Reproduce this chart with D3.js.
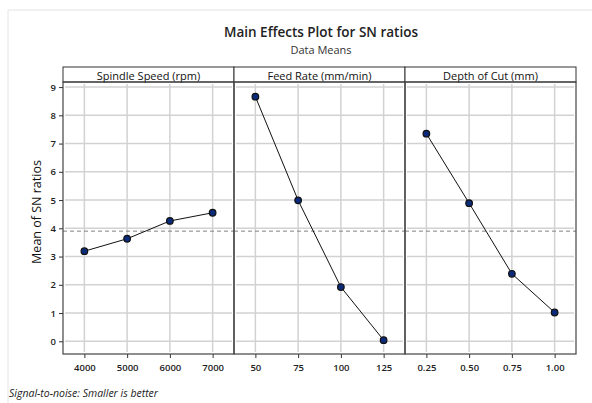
<!DOCTYPE html>
<html>
<head>
<meta charset="utf-8">
<script src="https://cdn.jsdelivr.net/npm/d3@7"></script>
<style>
  html, body { margin: 0; padding: 0; background: #fff; }
  svg { display: block; }
  text { font-family: "Open Sans", "Noto Sans", sans-serif; }
</style>
</head>
<body>
<svg id="chart" width="592" height="403"></svg>
<script>
// ---- data ----
const factors = ["Spindle Speed (rpm)", "Feed Rate (mm/min)", "Depth of Cut (mm)"];
const spindleLevels = ["4000", "5000", "6000", "7000"];
const spindleMeans = [3.19, 3.63, 4.26, 4.55];
const feedLevels = ["50", "75", "100", "125"];
const feedMeans = [8.66, 4.99, 1.92, 0.04];
const depthLevels = ["0.25", "0.50", "0.75", "1.00"];
const depthMeans = [7.35, 4.89, 2.39, 1.02];
const yTicks = [0, 1, 2, 3, 4, 5, 6, 7, 8, 9];
const overallMean = 3.90;

const panels = [
  { name: factors[0], levels: spindleLevels, values: spindleMeans },
  { name: factors[1], levels: feedLevels, values: feedMeans },
  { name: factors[2], levels: depthLevels, values: depthMeans }
];

// ---- layout ----
const svg = d3.select("#chart");
const plotLeft = 63, plotRight = 576;
const stripTop = 67, plotTop = 82, plotBottom = 354;

// outer faint frame
svg.append("path").attr("d", "M8,403 L8,10 L592,10")
  .attr("fill", "none").attr("stroke", "#e4e4e4").attr("stroke-width", 1);

// titles
svg.append("text").attr("x", 321).attr("y", 37).attr("text-anchor", "middle")
  .attr("font-size", 13.5).attr("font-weight", 600).attr("fill", "#222")
  .text("Main Effects Plot for SN ratios");
svg.append("text").attr("x", 321).attr("y", 54).attr("text-anchor", "middle")
  .attr("font-size", 11).attr("fill", "#333")
  .text("Data Means");

const y = d3.scaleLinear().domain([-0.45, 9.18]).range([plotBottom, plotTop]);

const outer = d3.scaleBand().domain(d3.range(panels.length))
  .range([plotLeft, plotRight]).paddingInner(0).paddingOuter(0);

panels.forEach((p, i) => {
  const x0 = outer(i), w = outer.bandwidth();
  const g = svg.append("g");
  const x = d3.scalePoint().domain(p.levels).range([x0, x0 + w]).padding(0.5);

  // horizontal grid
  g.selectAll("line.hg").data(yTicks).join("line")
    .attr("x1", x0 + 2).attr("x2", x0 + w - 2)
    .attr("y1", d => y(d)).attr("y2", d => y(d))
    .attr("stroke", "#d2d2d2").attr("stroke-width", 1.5);
  // vertical grid
  g.selectAll("line.vg").data(p.levels).join("line")
    .attr("x1", d => x(d)).attr("x2", d => x(d))
    .attr("y1", plotTop + 2).attr("y2", plotBottom - 2)
    .attr("stroke", "#d2d2d2").attr("stroke-width", 1.5);

  // reference line
  g.append("line").attr("x1", x0).attr("x2", x0 + w)
    .attr("y1", y(overallMean)).attr("y2", y(overallMean))
    .attr("stroke", "#808080").attr("stroke-width", 1).attr("stroke-dasharray", "4,3");

  // line
  const line = d3.line().x((d, j) => x(p.levels[j])).y(d => y(d));
  g.append("path").datum(p.values).attr("d", line)
    .attr("fill", "none").attr("stroke", "#111").attr("stroke-width", 1);
  // points
  g.selectAll("circle").data(p.values).join("circle")
    .attr("cx", (d, j) => x(p.levels[j])).attr("cy", d => y(d)).attr("r", 3.3)
    .attr("fill", "#0b2a7a").attr("stroke", "#111").attr("stroke-width", 1.2);

  // x axis
  const ax = svg.append("g").attr("transform", `translate(0,${plotBottom})`)
    .call(d3.axisBottom(x).tickSize(4).tickPadding(6));
  ax.select(".domain").remove();
  ax.selectAll("line").attr("stroke", "#333");
  ax.selectAll("text").attr("font-size", 9.5).attr("font-weight", 600)
    .attr("fill", "#222").attr("font-family", "'Open Sans', sans-serif");

  // strip
  svg.append("rect").attr("x", x0).attr("y", stripTop).attr("width", w)
    .attr("height", plotTop - stripTop).attr("fill", "#fff")
    .attr("stroke", "#333").attr("stroke-width", 1);
  svg.append("text").attr("x", x0 + w / 2).attr("y", plotTop - 2)
    .attr("text-anchor", "middle").attr("font-size", 11).attr("fill", "#111")
    .text(p.name);

  // panel border
  svg.append("rect").attr("x", x0).attr("y", plotTop).attr("width", w)
    .attr("height", plotBottom - plotTop).attr("fill", "none")
    .attr("stroke", "#444").attr("stroke-width", 1.2);
});

// y axis
const ay = svg.append("g").attr("transform", `translate(${plotLeft},0)`)
  .call(d3.axisLeft(y).tickValues(yTicks).tickSize(4).tickPadding(3).tickFormat(d3.format("d")));
ay.select(".domain").remove();
ay.selectAll("line").attr("stroke", "#333");
ay.selectAll("text").attr("font-size", 9.5).attr("font-weight", 600)
  .attr("fill", "#222").attr("font-family", "'Open Sans', sans-serif");

svg.append("text")
  .attr("transform", `translate(41,${(plotTop + plotBottom) / 2 - 6}) rotate(-90)`)
  .attr("text-anchor", "middle").attr("font-size", 12.5).attr("fill", "#111")
  .text("Mean of SN ratios");

svg.append("text").attr("x", 9).attr("y", 397)
  .attr("font-size", 10.5).attr("font-style", "italic").attr("fill", "#222")
  .text("Signal-to-noise: Smaller is better");
</script>
</body>
</html>
